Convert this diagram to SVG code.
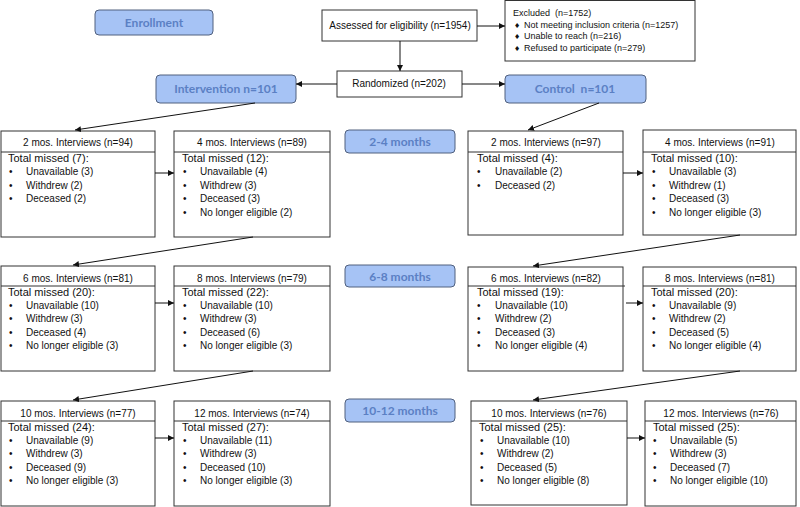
<svg xmlns="http://www.w3.org/2000/svg" width="800" height="507" viewBox="0 0 800 507">
<defs>
<marker id="ah" viewBox="0 0 10 10" refX="10" refY="5" markerWidth="6" markerHeight="6" orient="auto" markerUnits="userSpaceOnUse">
<path d="M0,0 L10,5 L0,10 z" fill="#111"/>
</marker>
<style>
.box{fill:#fff;stroke:#333;stroke-width:1}
.div{stroke:#333;stroke-width:1}
.lbl{fill:#a6c3f5;stroke:#50607e;stroke-width:1}
.lt{font-family:Lato,"Open Sans",sans-serif;font-weight:bold;font-size:12px;fill:#5b80c4;text-anchor:middle}
.t{font-family:"Liberation Sans",Arial,sans-serif;font-size:10px;fill:#111}
.tm{font-family:"Liberation Sans",Arial,sans-serif;font-size:11px;fill:#111}
.ts{font-family:"Liberation Sans",Arial,sans-serif;font-size:9px;fill:#111}
.c{text-anchor:middle}
.dm{font-family:"DejaVu Sans",sans-serif;font-size:7px;fill:#111}
.con line{stroke:#111;stroke-width:1;marker-end:url(#ah)}
</style>
</defs>
<rect width="800" height="507" fill="#fff"/>

<g id="enrollment"><rect class="lbl" x="95" y="10" width="118" height="25" rx="4"/><text class="lt" x="154" y="27">Enrollment</text></g>

<g id="assessed"><rect class="box" x="322" y="10" width="155" height="31"/><text class="t c" x="400" y="29">Assessed for eligibility (n=1954)</text></g>

<g id="excluded"><rect class="box" x="505" y="0.5" width="190" height="60.5"/>
<text class="ts" x="513" y="16" xml:space="preserve">Excluded  (n=1752)</text>
<text class="dm" x="514" y="28">♦</text><text class="ts" x="524" y="28">Not meeting inclusion criteria (n=1257)</text>
<text class="dm" x="514" y="39">♦</text><text class="ts" x="524" y="39">Unable to reach (n=216)</text>
<text class="dm" x="514" y="51">♦</text><text class="ts" x="524" y="51">Refused to participate (n=279)</text>
</g>

<g id="randomized"><rect class="box" x="337" y="71" width="125" height="26"/><text class="t c" x="399" y="87">Randomized (n=202)</text></g>

<g id="intervention"><rect class="lbl" x="156" y="75" width="140" height="28" rx="4"/><text class="lt" x="226" y="93">Intervention n=101</text></g>
<g id="control"><rect class="lbl" x="505" y="75" width="141" height="28" rx="4"/><text class="lt" x="575" y="93" xml:space="preserve">Control  n=101</text></g>

<g id="m24"><rect class="lbl" x="345" y="130" width="110" height="23" rx="4"/><text class="lt" x="400" y="146">2-4 months</text></g>
<g id="m68"><rect class="lbl" x="345" y="265" width="110" height="22" rx="4"/><text class="lt" x="400" y="281">6-8 months</text></g>
<g id="m1012"><rect class="lbl" x="345" y="399" width="110" height="23" rx="4"/><text class="lt" x="400" y="415">10-12 months</text></g>

<!-- Row 1 -->
<g id="i2"><rect class="box" x="1" y="131" width="154" height="106"/><line class="div" x1="1" y1="152" x2="155" y2="152"/>
<text class="t c" x="78" y="146">2 mos. Interviews (n=94)</text>
<text class="tm" x="8" y="162">Total missed (7):</text>
<text class="t" x="9" y="175">•</text><text class="t" x="26" y="175">Unavailable (3)</text>
<text class="t" x="9" y="189">•</text><text class="t" x="26" y="189">Withdrew (2)</text>
<text class="t" x="9" y="202">•</text><text class="t" x="26" y="202">Deceased (2)</text>
</g>
<g id="i4"><rect class="box" x="174" y="131" width="156" height="106"/><line class="div" x1="174" y1="152" x2="330" y2="152"/>
<text class="t c" x="252" y="146">4 mos. Interviews (n=89)</text>
<text class="tm" x="182" y="162">Total missed (12):</text>
<text class="t" x="183" y="175">•</text><text class="t" x="200" y="175">Unavailable (4)</text>
<text class="t" x="183" y="189">•</text><text class="t" x="200" y="189">Withdrew (3)</text>
<text class="t" x="183" y="202">•</text><text class="t" x="200" y="202">Deceased (3)</text>
<text class="t" x="183" y="216">•</text><text class="t" x="200" y="216">No longer eligible (2)</text>
</g>
<g id="c2"><rect class="box" x="468" y="131" width="155" height="104"/><line class="div" x1="468" y1="152" x2="623" y2="152"/>
<text class="t c" x="546" y="146">2 mos. Interviews (n=97)</text>
<text class="tm" x="477" y="162">Total missed (4):</text>
<text class="t" x="477" y="175">•</text><text class="t" x="495" y="175">Unavailable (2)</text>
<text class="t" x="477" y="189">•</text><text class="t" x="495" y="189">Deceased (2)</text>
</g>
<g id="c4"><rect class="box" x="643" y="130" width="153" height="105"/><line class="div" x1="643" y1="152" x2="796" y2="152"/>
<text class="t c" x="720" y="146">4 mos. Interviews (n=91)</text>
<text class="tm" x="651" y="162">Total missed (10):</text>
<text class="t" x="652" y="175">•</text><text class="t" x="669" y="175">Unavailable (3)</text>
<text class="t" x="652" y="189">•</text><text class="t" x="669" y="189">Withdrew (1)</text>
<text class="t" x="652" y="202">•</text><text class="t" x="669" y="202">Deceased (3)</text>
<text class="t" x="652" y="216">•</text><text class="t" x="669" y="216">No longer eligible (3)</text>
</g>

<!-- Row 2 -->
<g id="i6"><rect class="box" x="1" y="266" width="154" height="105"/><line class="div" x1="1" y1="286" x2="155" y2="286"/>
<text class="t c" x="78" y="282">6 mos. Interviews (n=81)</text>
<text class="tm" x="8" y="296">Total missed (20):</text>
<text class="t" x="9" y="309">•</text><text class="t" x="26" y="309">Unavailable (10)</text>
<text class="t" x="9" y="322">•</text><text class="t" x="26" y="322">Withdrew (3)</text>
<text class="t" x="9" y="336">•</text><text class="t" x="26" y="336">Deceased (4)</text>
<text class="t" x="9" y="349">•</text><text class="t" x="26" y="349">No longer eligible (3)</text>
</g>
<g id="i8"><rect class="box" x="174" y="266" width="156" height="105"/><line class="div" x1="174" y1="286" x2="330" y2="286"/>
<text class="t c" x="252" y="282">8 mos. Interviews (n=79)</text>
<text class="tm" x="182" y="296">Total missed (22):</text>
<text class="t" x="183" y="309">•</text><text class="t" x="200" y="309">Unavailable (10)</text>
<text class="t" x="183" y="322">•</text><text class="t" x="200" y="322">Withdrew (3)</text>
<text class="t" x="183" y="336">•</text><text class="t" x="200" y="336">Deceased (6)</text>
<text class="t" x="183" y="349">•</text><text class="t" x="200" y="349">No longer eligible (3)</text>
</g>
<g id="c6"><rect class="box" x="468" y="267" width="155" height="104"/><line class="div" x1="468" y1="286" x2="625" y2="286"/>
<text class="t c" x="546" y="282">6 mos. Interviews (n=82)</text>
<text class="tm" x="477" y="296">Total missed (19):</text>
<text class="t" x="477" y="309">•</text><text class="t" x="495" y="309">Unavailable (10)</text>
<text class="t" x="477" y="322">•</text><text class="t" x="495" y="322">Withdrew (2)</text>
<text class="t" x="477" y="336">•</text><text class="t" x="495" y="336">Deceased (3)</text>
<text class="t" x="477" y="349">•</text><text class="t" x="495" y="349">No longer eligible (4)</text>
</g>
<g id="c8"><rect class="box" x="643" y="267" width="153" height="104"/><line class="div" x1="643" y1="286" x2="796" y2="286"/>
<text class="t c" x="720" y="282">8 mos. Interviews (n=81)</text>
<text class="tm" x="651" y="296">Total missed (20):</text>
<text class="t" x="652" y="309">•</text><text class="t" x="669" y="309">Unavailable (9)</text>
<text class="t" x="652" y="322">•</text><text class="t" x="669" y="322">Withdrew (2)</text>
<text class="t" x="652" y="336">•</text><text class="t" x="669" y="336">Deceased (5)</text>
<text class="t" x="652" y="349">•</text><text class="t" x="669" y="349">No longer eligible (4)</text>
</g>

<!-- Row 3 -->
<g id="i10"><rect class="box" x="1" y="401" width="154" height="105"/><line class="div" x1="1" y1="421" x2="155" y2="421"/>
<text class="t c" x="78" y="417">10 mos. Interviews (n=77)</text>
<text class="tm" x="8" y="431">Total missed (24):</text>
<text class="t" x="9" y="444">•</text><text class="t" x="26" y="444">Unavailable (9)</text>
<text class="t" x="9" y="457">•</text><text class="t" x="26" y="457">Withdrew (3)</text>
<text class="t" x="9" y="471">•</text><text class="t" x="26" y="471">Deceased (9)</text>
<text class="t" x="9" y="484">•</text><text class="t" x="26" y="484">No longer eligible (3)</text>
</g>
<g id="i12"><rect class="box" x="174" y="401" width="156" height="105"/><line class="div" x1="174" y1="421" x2="330" y2="421"/>
<text class="t c" x="252" y="417">12 mos. Interviews (n=74)</text>
<text class="tm" x="182" y="431">Total missed (27):</text>
<text class="t" x="183" y="444">•</text><text class="t" x="200" y="444">Unavailable (11)</text>
<text class="t" x="183" y="457">•</text><text class="t" x="200" y="457">Withdrew (3)</text>
<text class="t" x="183" y="471">•</text><text class="t" x="200" y="471">Deceased (10)</text>
<text class="t" x="183" y="484">•</text><text class="t" x="200" y="484">No longer eligible (3)</text>
</g>
<g id="c10"><rect class="box" x="471" y="401" width="156" height="104"/><line class="div" x1="471" y1="421" x2="627" y2="421"/>
<text class="t c" x="549" y="417">10 mos. Interviews (n=76)</text>
<text class="tm" x="479" y="431">Total missed (25):</text>
<text class="t" x="480" y="444">•</text><text class="t" x="497" y="444">Unavailable (10)</text>
<text class="t" x="480" y="457">•</text><text class="t" x="497" y="457">Withdrew (2)</text>
<text class="t" x="480" y="471">•</text><text class="t" x="497" y="471">Deceased (5)</text>
<text class="t" x="480" y="484">•</text><text class="t" x="497" y="484">No longer eligible (8)</text>
</g>
<g id="c12"><rect class="box" x="645" y="401" width="151" height="105"/><line class="div" x1="645" y1="421" x2="796" y2="421"/>
<text class="t c" x="721" y="417">12 mos. Interviews (n=76)</text>
<text class="tm" x="653" y="431">Total missed (25):</text>
<text class="t" x="653" y="444">•</text><text class="t" x="670" y="444">Unavailable (5)</text>
<text class="t" x="653" y="457">•</text><text class="t" x="670" y="457">Withdrew (3)</text>
<text class="t" x="653" y="471">•</text><text class="t" x="670" y="471">Deceased (7)</text>
<text class="t" x="653" y="484">•</text><text class="t" x="670" y="484">No longer eligible (10)</text>
</g>

<g id="connectors" class="con">
<line x1="477" y1="26" x2="505" y2="26"/>
<line x1="400" y1="41" x2="400" y2="71"/>
<line x1="337" y1="84" x2="296" y2="84"/>
<line x1="462" y1="84" x2="505" y2="84"/>
<line x1="255" y1="103" x2="75" y2="130"/>
<line x1="599" y1="103" x2="528" y2="130"/>
<line x1="155" y1="173" x2="174" y2="173"/>
<line x1="623" y1="173" x2="643" y2="173"/>
<line x1="253" y1="237" x2="73" y2="265"/>
<line x1="740" y1="235" x2="533" y2="266"/>
<line x1="155" y1="303" x2="174" y2="303"/>
<line x1="626" y1="303" x2="643" y2="303"/>
<line x1="253" y1="371" x2="73" y2="400"/>
<line x1="740" y1="371" x2="533" y2="400"/>
<line x1="155" y1="438" x2="174" y2="438"/>
<line x1="627" y1="438" x2="645" y2="438"/>
</g>
</svg>
